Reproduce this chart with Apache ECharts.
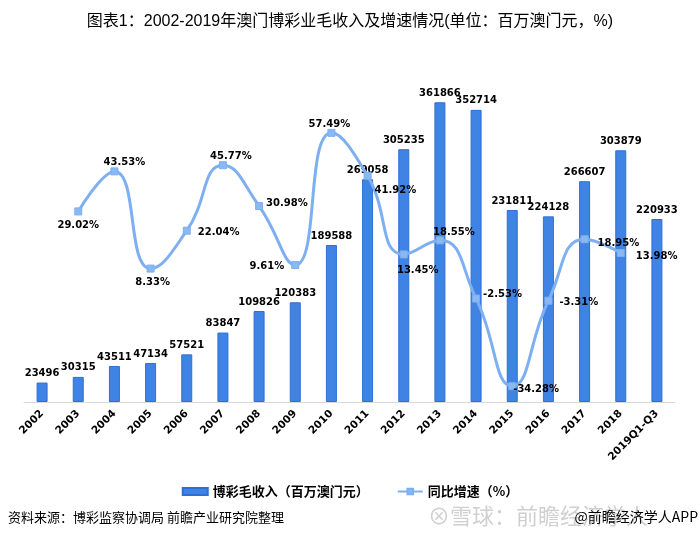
<!DOCTYPE html>
<html>
<head>
<meta charset="utf-8">
<script src="https://cdn.jsdelivr.net/npm/echarts@6/dist/echarts.min.js"></script>
<style>
html,body{margin:0;padding:0;background:#fff;}
#c{width:700px;height:541px;}
</style>
</head>
<body>
<div id="c"></div>
<script>
var categories = ['2002','2003','2004','2005','2006','2007','2008','2009','2010','2011','2012','2013','2014','2015','2016','2017','2018','2019Q1-Q3'];
var revenue = [23496,30315,43511,47134,57521,83847,109826,120383,189588,269058,305235,361866,352714,231811,224128,266607,303879,220933];
var growth = [null,29.02,43.53,8.33,22.04,45.77,30.98,9.61,57.49,41.92,13.45,18.55,-2.53,-34.28,-3.31,18.95,13.98,null];
var seriesNames = ['博彩毛收入（百万澳门元）','同比增速（%）'];
var titleText = '图表1：2002-2019年澳门博彩业毛收入及增速情况(单位：百万澳门元，%)';
var sourceText = '资料来源：博彩监察协调局 前瞻产业研究院整理';

// label placement for the growth line (style only)
var growthLabelPlace = [
  null,
  {position:'bottom', offset:[0,0]},
  {position:'top', offset:[10,5]},
  {position:'bottom', offset:[2,0]},
  {position:'right', offset:[2,2]},
  {position:'top', offset:[8,5]},
  {position:'right', offset:[-2,-3]},
  {position:'left', offset:[-2,1]},
  {position:'top', offset:[-2,6]},
  {position:'right', offset:[-2,15]},
  {position:'bottom', offset:[14,2]},
  {position:'top', offset:[14,6]},
  {position:'right', offset:[-2,-4]},
  {position:'right', offset:[-8,3]},
  {position:'right', offset:[2,2]},
  {position:'right', offset:[4,4]},
  {position:'right', offset:[6,3]},
  null
];

var lineData = growth.map(function(v,i){
  if (v === null) return {value: null};
  var p = growthLabelPlace[i];
  return {value: v, label: {position: p.position, offset: p.offset}};
});

var numFont = 'DejaVu Sans, Verdana, sans-serif';
var chart = echarts.init(document.getElementById('c'), null, {renderer:'canvas'});
chart.setOption({
  animation: false,
  backgroundColor: '#fff',
  title: {
    text: titleText,
    left: 'center',
    top: 9,
    textStyle: {fontSize: 16, fontWeight: 'normal', color: '#000', fontFamily: 'Liberation Sans, Noto Sans CJK SC, sans-serif'}
  },
  grid: {left: 24, right: 25, top: 70.7, bottom: 139, containLabel: false},
  legend: {
    bottom: 38,
    left: 'center',
    itemGap: 28,
    itemWidth: 25,
    itemHeight: 7,
    textStyle: {fontSize: 13, fontWeight: 'bold', color: '#000', fontFamily: 'Noto Sans CJK SC, sans-serif'},
    data: [
      {name: seriesNames[0], icon: 'rect'},
      {name: seriesNames[1]}
    ]
  },
  xAxis: {
    type: 'category',
    data: categories,
    axisLine: {show: true, lineStyle: {color: '#D9D9D9', width: 1}},
    axisTick: {show: false},
    axisLabel: {rotate: 45, interval: 0, margin: 10, fontSize: 10.5, fontWeight: 'bold', color: '#000', fontFamily: numFont}
  },
  yAxis: [
    {type: 'value', min: 0, max: 400000, show: false, splitLine: {show: false}},
    {type: 'value', min: -40, max: 80, show: false, splitLine: {show: false}}
  ],
  series: [
    {
      name: seriesNames[0],
      type: 'bar',
      data: revenue,
      barWidth: 11,
      itemStyle: {color: '#3F84E4', borderColor: '#2E6FD3', borderWidth: 1},
      label: {show: true, position: 'top', distance: 4, fontSize: 10, fontWeight: 'bold', color: '#000', fontFamily: numFont},
      z: 2
    },
    {
      name: seriesNames[1],
      type: 'line',
      yAxisIndex: 1,
      data: lineData,
      smooth: 0.5,
      connectNulls: false,
      symbol: 'rect',
      symbolSize: 7,
      lineStyle: {color: '#7DAFF1', width: 3},
      itemStyle: {color: '#8AB8F3', borderColor: '#7DAFF1', borderWidth: 1},
      label: {show: true, fontSize: 10, fontWeight: 'bold', color: '#000', fontFamily: numFont,
        formatter: function(p){ return p.value.toFixed(2) + '%'; }},
      z: 3
    }
  ],
  graphic: [
    {type: 'text', left: 8, top: 511, style: {text: sourceText, fontSize: 13, fill: '#000', fontFamily: 'Noto Sans CJK SC, sans-serif'}},
    {type: 'text', left: 428, top: 505, style: {text: '⊗雪球：前瞻经济学人', fontSize: 22, fill: '#D0D0D0', fontFamily: 'Noto Sans CJK SC, sans-serif'}},
    {type: 'text', right: 2, top: 510, style: {text: '@前瞻经济学人APP', fontSize: 14, fill: '#000', fontFamily: 'Noto Sans CJK SC, Liberation Sans, sans-serif'}}
  ]
});
</script>
</body>
</html>
